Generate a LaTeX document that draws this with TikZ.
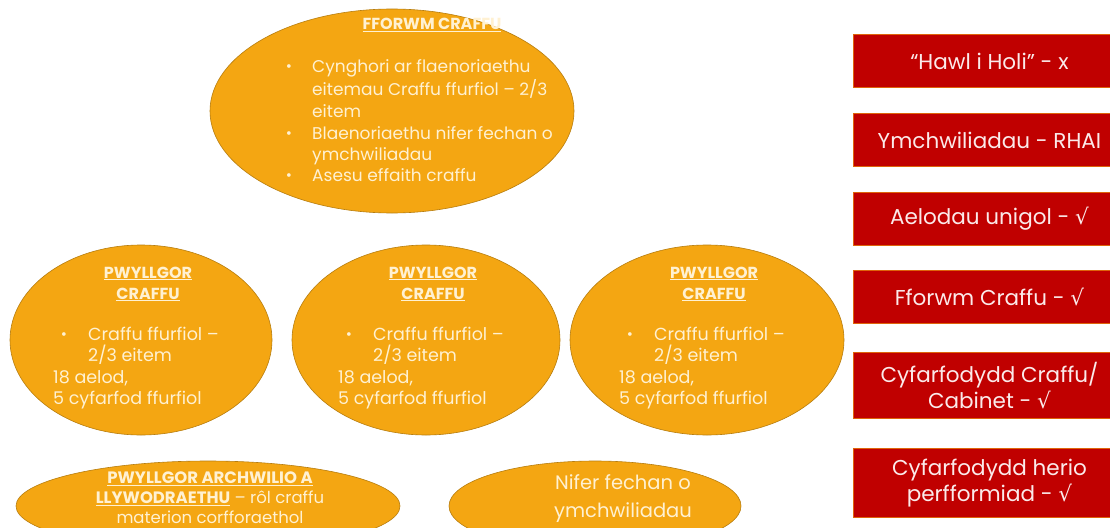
\documentclass[tikz,border=0pt]{standalone}
\usepackage{fontspec}
\setmainfont{Poppins}
\newfontfamily\symf{DejaVu Sans}
\usetikzlibrary{shapes.geometric}
\definecolor{orng}{HTML}{F4A612}
\definecolor{cream}{HTML}{FFF1D2}
\definecolor{rd}{HTML}{C00000}
\definecolor{rdtxt}{HTML}{FBEAEA}
\newcommand{\chk}{{\symf\char"221A}}
\tikzset{
  oval/.style={ellipse, fill=orng, draw=orng!75!black, line width=0.6pt, inner sep=0pt},
  redbox/.style={rectangle, fill=rd, draw=orng!60!rd, line width=0.9pt, anchor=north west,
    minimum width=272, inner sep=0pt, text=rdtxt, align=center,
    font=\fontsize{21.5}{26}\selectfont},
  ttl/.style={text=cream, font=\fontsize{16}{21}\selectfont\bfseries, align=center, inner sep=0pt},
  body/.style={text=cream, font=\fontsize{17}{21.5}\selectfont, align=left, inner sep=0pt,
    anchor=west, text height=12pt, text depth=4pt},
  mbody/.style={body, font=\fontsize{17.5}{21.5}\selectfont},
  bul/.style={text=cream, font=\fontsize{15}{21.5}\selectfont, inner sep=0pt}
}
\begin{document}
\begin{tikzpicture}[x=1pt,y=-1pt]
\clip (0,0) rectangle (1110,527);
\fill[white] (0,0) rectangle (1110,527);

% top ellipse
\node[oval, minimum width=364, minimum height=204] (forum) at (392,111) {};
\node[ttl] (forumt) at (432,25) {\underline{FFORWM CRAFFU}};
\node[bul] (fb1) at (289,68) {•};
\node[bul] (fb2) at (289,135) {•};
\node[bul] (fb3) at (289,177) {•};
\node[body] (fl1) at (312,68) {Cynghori ar flaenoriaethu};
\node[body] (fl2) at (312,91) {eitemau Craffu ffurfiol – 2/3};
\node[body] (fl3) at (312,113) {eitem};
\node[body] (fl4) at (312,135) {Blaenoriaethu nifer fechan o};
\node[body] (fl5) at (312,156) {ymchwiliadau};
\node[body] (fl6) at (312,177) {Asesu effaith craffu};

% middle ellipses
\foreach \i/\cx/\w in {1/141/262, 2/426/268, 3/707/274}{
  \node[oval, minimum width=\w, minimum height=190] (pc\i) at (\cx,340) {};
  \node[ttl] (pct\i) at (\cx+7,284) {\underline{PWYLLGOR}\\\underline{CRAFFU}};
  \node[bul] (pcb\i) at (\cx-77,336) {•};
  \node[mbody] (pca\i) at (\cx-53,336) {Craffu ffurfiol –};
  \node[mbody] (pcb2\i) at (\cx-53,357) {2/3 eitem};
  \node[mbody] (pcc\i) at (\cx-88,379) {18 aelod,};
  \node[mbody] (pcd\i) at (\cx-88,400) {5 cyfarfod ffurfiol};
}

% bottom ellipses
\node[oval, minimum width=384, minimum height=90] (audit) at (208,506) {};
\node[text=cream, inner sep=0pt, align=center, font=\fontsize{16.5}{20}\selectfont] (auditt) at (210,498)
  {\textbf{\underline{PWYLLGOR ARCHWILIO A}}\\\textbf{\underline{LLYWODRAETHU}} – rôl craffu\\materion corfforaethol};
\node[oval, minimum width=292, minimum height=90] (inq) at (595,506) {};
\node[text=cream, inner sep=0pt, align=center, font=\fontsize{19.5}{28}\selectfont] (inqt) at (623,499)
  {Nifer fechan o\\ymchwiliadau};

% red boxes
\node[redbox, minimum height=53] (r1) at (853,34) {“Hawl i Holi” - x};
\node[redbox, minimum height=53] (r2) at (853,113) {Ymchwiliadau - RHAI};
\node[redbox, minimum height=53] (r3) at (853,192) {Aelodau unigol - \chk};
\node[redbox, minimum height=53] (r4) at (853,270) {Fforwm Craffu - \chk};
\node[redbox, minimum height=66] (r5) at (853,352) {Cyfarfodydd Craffu/\\Cabinet - \chk};
\node[redbox, minimum height=69] (r6) at (853,448) {Cyfarfodydd herio\\perfformiad - \chk};
\end{tikzpicture}
\end{document}
